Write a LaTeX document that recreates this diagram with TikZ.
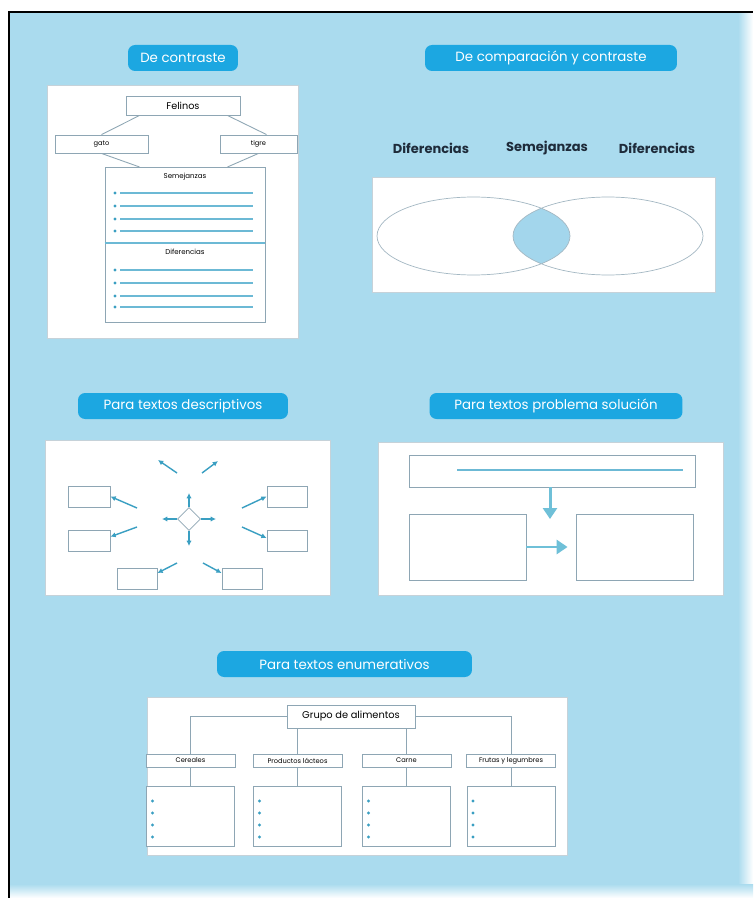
\documentclass[tikz,border=0pt]{standalone}
\usepackage{fontspec}
\setmainfont{Poppins}
\usetikzlibrary{arrows.meta,positioning,shapes.geometric}

\definecolor{skyback}{HTML}{AADBEE}
\definecolor{pillblue}{HTML}{1CA7E1}
\definecolor{framegray}{HTML}{8EA6B4}
\definecolor{ruleblue}{HTML}{6CB9D5}
\definecolor{arrowteal}{HTML}{3A9FC2}
\definecolor{vennblue}{HTML}{A3D6EC}
\definecolor{inkblue}{HTML}{1E2B3A}
\definecolor{fatblue}{HTML}{6FC0D8}

\newcommand{\fsz}[1]{\fontsize{#1}{#1}\selectfont}

\begin{document}
\begin{tikzpicture}[
    x = 0.02cm, y = -0.02cm, % one unit is one pixel, y runs down
    pill/.style = {fill=pillblue, rounded corners=4pt, text=white,
        font=\fsz{7.6}, minimum height=0.52cm, inner sep=0pt},
    panel/.style = {fill=white, draw=framegray!50, line width=0.3pt},
    box/.style = {draw=framegray, line width=0.5pt, fill=white, inner sep=0pt},
    treeline/.style = {draw=framegray, line width=0.5pt},
    listrule/.style = {draw=ruleblue, line width=0.7pt},
    venntitle/.style = {text=inkblue, font=\bfseries\fsz{7.4}},
    thin arrow/.style = {-{Latex[length=3pt,width=3pt]}, color=arrowteal, line width=0.8pt},
    fat arrow/.style = {-{Triangle[length=0.22cm,width=0.28cm]}, color=fatblue, line width=1.7pt}
    ]

    % background and frame
    \useasboundingbox (0,0) rectangle (753,898);
    \fill[skyback] (10,13) rectangle (753,898);
    \shade[left color=skyback, right color=white] (738,13) rectangle (753,898);
    \shade[top color=skyback, bottom color=white] (10,884) rectangle (753,898);
    \draw[black, line width=0.04cm] (9,898) -- (9,12) -- (753,12);

    %% De contraste
    \node[pill, minimum width=2.2cm] (t1) at (183,58) {De contraste};
    \draw[panel] (47,85) rectangle (298,338);
    \node[box, minimum width=2.28cm, minimum height=0.38cm, font=\fsz{5.5}] (fel) at (183,105.5) {Felinos};
    \node[box, minimum width=1.86cm, minimum height=0.36cm, font=\fsz{3.8}] (gato) at (101.5,144) {gato};
    \node[box, minimum width=1.54cm, minimum height=0.36cm, font=\fsz{3.8}] (tigre) at (258.5,144) {tigre};
    \node[box, anchor=north, minimum width=3.2cm, minimum height=1.52cm,
        label={[anchor=north, font=\fsz{4}]north:Semejanzas}] (sem) at (185,167) {};
    \node[box, anchor=north, minimum width=3.2cm, minimum height=1.58cm,
        label={[anchor=north, font=\fsz{4}]north:Diferencias}] (dif) at (185,243) {};
    \draw[ruleblue, line width=0.9pt] (dif.north west) -- (dif.north east);
    \path[treeline] ([xshift=0.28cm]fel.south west) edge (gato.north)
        ([xshift=-0.26cm]fel.south east) edge ([xshift=0.16cm]tigre.north)
        (gato.south) edge ([xshift=0.7cm]sem.north west)
        (tigre.south) edge ([xshift=-0.76cm]sem.north east);
    \foreach \ly in {193,206,219,231,270,283,296,307} {
        \fill[arrowteal] (115,\ly) circle[radius=0.9pt];
        \draw[listrule] (120,\ly) -- (253,\ly);
    }

    %% De comparacion y contraste
    \node[pill, minimum width=5.04cm] (t2) at (551,58) {De comparación y contraste};
    \node[venntitle] (dl) at (431,148) {Diferencias};
    \node[venntitle] (sm) at (547,148) {Semejanzas};
    \node[venntitle] (dr) at (657,148) {Diferencias};
    \draw[panel] (372,177) rectangle (715,292);
    \begin{scope}
        \clip (473.5,236) ellipse [x radius=1.93cm, y radius=0.78cm];
        \fill[vennblue] (608,236) ellipse [x radius=1.9cm, y radius=0.78cm];
    \end{scope}
    \draw[framegray!80, line width=0.4pt] (473.5,236) ellipse [x radius=1.93cm, y radius=0.78cm]
        (608,236) ellipse [x radius=1.9cm, y radius=0.78cm];

    %% Para textos descriptivos
    \node[pill, minimum width=4.2cm] (t3) at (183,406) {Para textos descriptivos};
    \draw[panel] (45,440) rectangle (330,595);
    \node[diamond, draw=framegray, minimum size=0.46cm, inner sep=0pt] (core) at (189,519) {};
    \node[box, minimum width=0.84cm, minimum height=0.42cm] (lu) at (89,496.5) {};
    \node[box, minimum width=0.84cm, minimum height=0.42cm] (ll) at (89,540.5) {};
    \node[box, minimum width=0.8cm, minimum height=0.42cm] (ru) at (287,496.5) {};
    \node[box, minimum width=0.8cm, minimum height=0.42cm] (rl) at (287,540.5) {};
    \node[box, minimum width=0.8cm, minimum height=0.42cm] (bl) at (137,578.5) {};
    \node[box, minimum width=0.8cm, minimum height=0.42cm] (br) at (242,578.5) {};
    \coordinate (cn) at (189,493);
    \coordinate (cs) at (189,546);
    \coordinate (cw) at (162,519);
    \coordinate (ce) at (216,519);
    \coordinate (s1) at (177,473);
    \coordinate (e1) at (158,460);
    \coordinate (s2) at (202,473);
    \coordinate (e2) at (218,461);
    \coordinate (s3) at (137,508);
    \coordinate (s4) at (137,527);
    \coordinate (s5) at (242,508);
    \coordinate (s6) at (242,527);
    \coordinate (s7) at (177,563);
    \coordinate (s8) at (203,563);
    \draw[thin arrow] (core.north) -- (cn);
    \draw[thin arrow] (core.south) -- (cs);
    \draw[thin arrow] (core.west) -- (cw);
    \draw[thin arrow] (core.east) -- (ce);
    \draw[thin arrow] (s1) -- (e1);
    \draw[thin arrow] (s2) -- (e2);
    \draw[thin arrow] (s3) -- (lu.east);
    \draw[thin arrow] (s4) -- (ll.10);
    \draw[thin arrow] (s5) -- (ru.west);
    \draw[thin arrow] (s6) -- (rl.173);
    \draw[thin arrow] (s7) -- (bl.15);
    \draw[thin arrow] (s8) -- (br.165);

    %% Para textos problema solucion
    \node[pill, minimum width=5.06cm] (t4) at (556,406) {Para textos problema solución};
    \draw[panel] (378,442) rectangle (723,595);
    \node[box, minimum width=5.72cm, minimum height=0.64cm] (prob) at (552,471) {};
    \draw[listrule] (457,470) -- (683,470);
    \node[box, minimum width=2.34cm, minimum height=1.32cm] (sol1) at (467.5,547) {};
    \node[box, minimum width=2.34cm, minimum height=1.32cm] (sol2) at (634.5,547) {};
    \coordinate (drop) at (550,519);
    \draw[fat arrow] (prob.south -| drop) -- (drop);
    \draw[fat arrow, shorten >=0.16cm] (sol1.east) -- (sol2.west);

    %% Para textos enumerativos
    \node[pill, minimum width=5.1cm] (t5) at (344.5,664) {Para textos enumerativos};
    \draw[panel] (147,697) rectangle (567,855);
    \node[box, minimum width=2.56cm, minimum height=0.46cm, font=\fsz{5.6}] (grupo) at (351,716.5) {Grupo de alimentos};
    \foreach \name/\cx/\txt in {cer/190.5/Cereales, lac/297.5/Productos lácteos,
        car/406.5/Carne, fru/511/Frutas y legumbres} {
        \node[box, minimum width=1.78cm, minimum height=0.26cm, font=\fsz{3.8}] (\name) at (\cx,760.5) {\txt};
        \node[box, minimum width=1.76cm, minimum height=1.2cm] (\name-list) at (\cx,816) {};
        \draw[treeline] (\name) -- (\name-list);
        \foreach \by in {801,813,825,837}
            \fill[arrowteal] (\cx-38,\by) circle[radius=0.9pt];
    }
    \draw[treeline] (grupo.west) -| (cer.north) (grupo.east) -| (fru.north)
        (grupo.south -| lac) -- (lac.north) (grupo.south -| car) -- (car.north);
\end{tikzpicture}
\end{document}
